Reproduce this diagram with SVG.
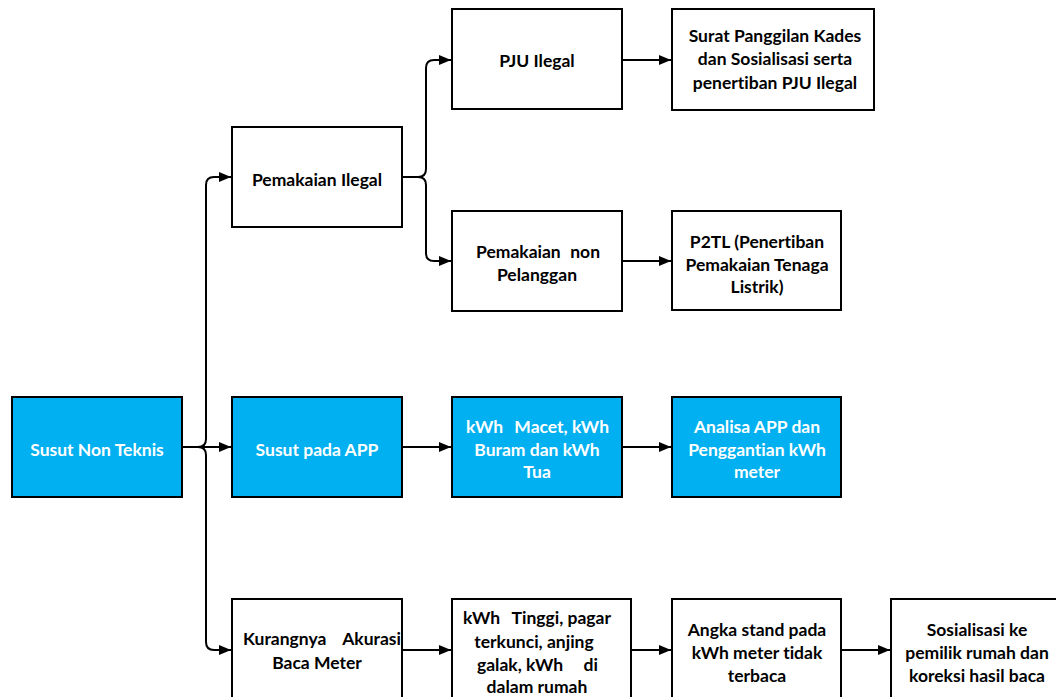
<svg xmlns="http://www.w3.org/2000/svg" width="1056" height="697" viewBox="0 0 1056 697">
<defs>
<style>
.box{fill:#fff;stroke:#000;stroke-width:2}
.blue{fill:#00B0F0;stroke:#000;stroke-width:2}
.t{font-family:Lato,"Open Sans","Liberation Sans",sans-serif;font-weight:bold;font-size:17.5px;fill:#000;text-anchor:middle;dominant-baseline:central;font-variant-ligatures:none;font-feature-settings:"liga" 0}
.w{fill:#fff}
.l{text-anchor:start}
.r{text-anchor:end}
.c{fill:none;stroke:#000;stroke-width:2}
</style>
<marker id="ah" markerUnits="userSpaceOnUse" markerWidth="13" markerHeight="11" refX="12" refY="5" orient="auto">
<path d="M0,0 L12,5 L0,10 z" fill="#000"/>
</marker>
</defs>
<rect width="1056" height="697" fill="#fff"/>

<g id="connectors">
<path class="c" d="M182 447 H231" marker-end="url(#ah)"/>
<path class="c" d="M198 447 Q206 447 206 439 V185 Q206 177 214 177 H231" marker-end="url(#ah)"/>
<path class="c" d="M198 447 Q206 447 206 455 V642 Q206 650 214 650 H231" marker-end="url(#ah)"/>
<path class="c" d="M402 177 H418 Q426 177 426 169 V68 Q426 60 434 60 H451" marker-end="url(#ah)"/>
<path class="c" d="M418 177 Q426 177 426 185 V253 Q426 261 434 261 H451" marker-end="url(#ah)"/>
<path class="c" d="M622 60 H671" marker-end="url(#ah)"/>
<path class="c" d="M622 261 H671" marker-end="url(#ah)"/>
<path class="c" d="M402 447 H451" marker-end="url(#ah)"/>
<path class="c" d="M622 447 H671" marker-end="url(#ah)"/>
<path class="c" d="M402 650 H451" marker-end="url(#ah)"/>
<path class="c" d="M631 650 H671" marker-end="url(#ah)"/>
<path class="c" d="M841 650 H890" marker-end="url(#ah)"/>
</g>

<g id="susut-non-teknis">
<rect class="blue" x="12" y="397" width="170" height="100"/>
<text class="t w" x="97" y="449">Susut Non Teknis</text>
</g>

<g id="pemakaian-ilegal">
<rect class="box" x="232" y="127" width="170" height="100"/>
<text class="t" x="317" y="179">Pemakaian Ilegal</text>
</g>

<g id="susut-pada-app">
<rect class="blue" x="232" y="397" width="170" height="100"/>
<text class="t w" x="317" y="449">Susut pada APP</text>
</g>

<g id="kurangnya-akurasi">
<rect class="box" x="232" y="599" width="170" height="110"/>
<text class="t l" x="243" y="638">Kurangnya</text>
<text class="t r" x="401" y="638">Akurasi</text>
<text class="t" x="317" y="662">Baca Meter</text>
</g>

<g id="pju-ilegal">
<rect class="box" x="452" y="9" width="170" height="100"/>
<text class="t" x="537" y="60">PJU Ilegal</text>
</g>

<g id="pemakaian-non-pelanggan">
<rect class="box" x="452" y="211" width="170" height="100"/>
<text class="t l" x="476" y="251">Pemakaian</text>
<text class="t r" x="600" y="251">non</text>
<text class="t" x="537" y="274">Pelanggan</text>
</g>

<g id="kwh-macet">
<rect class="blue" x="452" y="397" width="170" height="100"/>
<text class="t w l" x="466" y="426">kWh</text>
<text class="t w r" x="609" y="426">Macet, kWh</text>
<text class="t w" x="537" y="449">Buram dan kWh</text>
<text class="t w" x="537" y="471">Tua</text>
</g>

<g id="kwh-tinggi">
<rect class="box" x="452" y="599" width="179" height="110"/>
<text class="t l" x="463" y="617">kWh</text>
<text class="t r" x="611" y="617">Tinggi, pagar</text>
<text class="t" x="534" y="641">terkunci, anjing</text>
<text class="t l" x="477" y="664">galak, kWh</text>
<text class="t r" x="598" y="664">di</text>
<text class="t" x="537" y="686">dalam rumah</text>
</g>

<g id="surat-panggilan">
<rect class="box" x="672" y="9" width="202" height="101"/>
<text class="t" x="775" y="35">Surat Panggilan Kades</text>
<text class="t" x="775" y="58">dan Sosialisasi serta</text>
<text class="t" x="775" y="82">penertiban PJU Ilegal</text>
</g>

<g id="p2tl">
<rect class="box" x="672" y="211" width="169" height="99"/>
<text class="t" x="757" y="241">P2TL (Penertiban</text>
<text class="t" x="757" y="264">Pemakaian Tenaga</text>
<text class="t" x="757" y="286">Listrik)</text>
</g>

<g id="analisa-app">
<rect class="blue" x="672" y="397" width="169" height="100"/>
<text class="t w" x="757" y="426">Analisa APP dan</text>
<text class="t w" x="757" y="449">Penggantian kWh</text>
<text class="t w" x="757" y="471">meter</text>
</g>

<g id="angka-stand">
<rect class="box" x="672" y="599" width="169" height="110"/>
<text class="t" x="757" y="629">Angka stand pada</text>
<text class="t" x="757" y="652">kWh meter tidak</text>
<text class="t" x="757" y="675">terbaca</text>
</g>

<g id="sosialisasi">
<rect class="box" x="891" y="599" width="175" height="110"/>
<text class="t" x="977" y="629">Sosialisasi ke</text>
<text class="t" x="977" y="652">pemilik rumah dan</text>
<text class="t" x="977" y="675">koreksi hasil baca</text>
</g>
</svg>
